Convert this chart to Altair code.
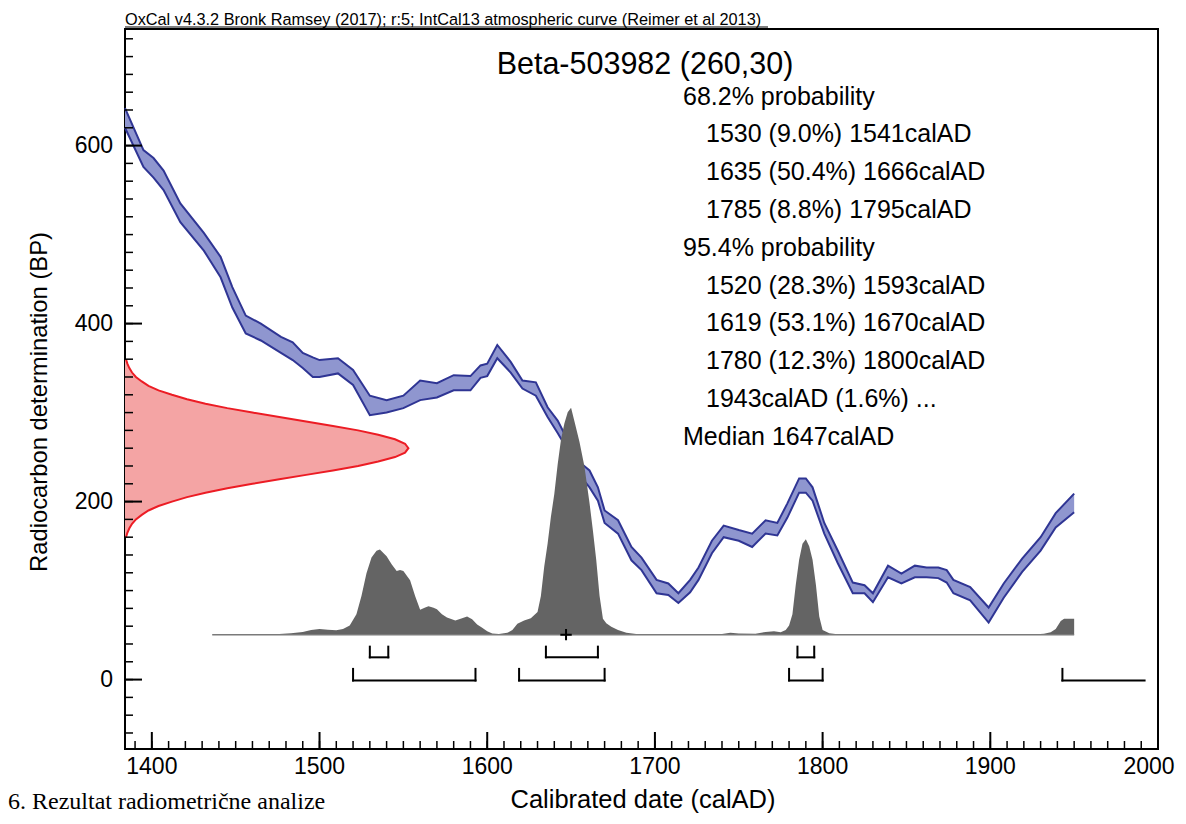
import altair as alt
import pandas as pd

# ---------------- data ----------------
# IntCal13 calibration band: calendar year (calAD), upper / lower radiocarbon age (BP)
cal_year = [1384, 1395, 1401, 1407, 1417, 1431, 1441, 1448, 1456, 1465,
            1477, 1484, 1490, 1496, 1500, 1511, 1520, 1530, 1540, 1550,
            1560, 1570, 1580, 1590, 1596, 1600, 1606, 1614, 1621, 1629,
            1636, 1642, 1648, 1654, 1661, 1666, 1670, 1678, 1686, 1692,
            1701, 1708, 1714, 1721, 1726, 1734, 1741, 1750, 1758, 1766,
            1773, 1779, 1786, 1790, 1794, 1801, 1809, 1818, 1825, 1830,
            1839, 1847, 1855, 1862, 1869, 1874, 1878, 1888, 1899, 1908,
            1919, 1930, 1939, 1950]
cal_hi = [642, 595, 586, 572, 535, 502, 475, 441, 409, 400,
          385, 379, 367, 362, 359, 361, 348, 319, 314, 319,
          336, 333, 342, 341, 353, 355, 376, 357, 336, 334,
          306, 291, 269, 246, 235, 216, 190, 179, 149, 137,
          112, 108, 97, 112, 126, 156, 173, 168, 164, 179,
          176, 198, 226, 226, 216, 176, 145, 109, 106, 97,
          128, 119, 128, 126, 126, 123, 112, 104, 81, 108,
          136, 160, 187, 209]
cal_lo = [620, 576, 564, 550, 514, 482, 452, 418, 389, 381,
          367, 359, 350, 340, 340, 344, 331, 297, 300, 305,
          314, 317, 325, 325, 339, 341, 361, 345, 327, 319,
          295, 277, 258, 232, 216, 201, 176, 164, 134, 123,
          97, 95, 86, 98, 112, 142, 160, 156, 149, 164,
          162, 182, 210, 210, 201, 164, 131, 97, 97, 87,
          115, 108, 115, 115, 114, 109, 97, 89, 64, 92,
          121, 145, 171, 188]

# calibrated (posterior) probability, relative to its maximum
post_year = [1436, 1450, 1465, 1476, 1483, 1490, 1495, 1500, 1505, 1510,
             1514, 1518, 1522, 1525, 1528, 1531, 1534, 1536, 1540, 1543,
             1546, 1548, 1550, 1554, 1557, 1560, 1563, 1565, 1568, 1570,
             1573, 1576, 1581, 1585, 1588, 1591, 1594, 1597, 1600, 1603,
             1607, 1612, 1615, 1618, 1622, 1626, 1630, 1632, 1634, 1636,
             1638, 1640, 1642, 1644, 1646, 1648, 1650, 1652, 1655, 1658,
             1661, 1663, 1665, 1667, 1669, 1671, 1674, 1678, 1683, 1690,
             1700, 1730, 1740, 1745, 1750, 1760, 1766, 1771, 1775, 1778,
             1780, 1782, 1784, 1786, 1788, 1790, 1792, 1794, 1796, 1798,
             1800, 1804, 1810, 1820, 1900, 1925, 1932, 1936, 1939, 1942,
             1944, 1950]
post_rel = [0, 0.001, 0.002, 0.003, 0.006, 0.012, 0.02, 0.025, 0.021, 0.019,
            0.025, 0.04, 0.09, 0.17, 0.27, 0.34, 0.37, 0.375, 0.345, 0.31,
            0.28, 0.285, 0.28, 0.24, 0.17, 0.11, 0.12, 0.125, 0.118, 0.112,
            0.09, 0.075, 0.062, 0.072, 0.08, 0.068, 0.045, 0.03, 0.015, 0.005,
            0.003, 0.008, 0.02, 0.048, 0.062, 0.072, 0.10, 0.17, 0.30, 0.40,
            0.52, 0.62, 0.75, 0.86, 0.93, 0.98, 1.0, 0.94, 0.85, 0.74,
            0.58, 0.46, 0.33, 0.17, 0.07, 0.05, 0.035, 0.02, 0.008, 0.002,
            0, 0, 0.003, 0.008, 0.005, 0.004, 0.012, 0.015, 0.01, 0.02,
            0.04, 0.09, 0.22, 0.33, 0.40, 0.42, 0.39, 0.33, 0.22, 0.08,
            0.02, 0.006, 0.001, 0, 0, 0.001, 0.004, 0.01, 0.025, 0.06,
            0.07, 0.07]

# measured date 260 +- 30 BP drawn along the y axis: BP and reach (years)
red_bp = [160, 165, 170, 175, 180, 185, 190, 195, 200, 205,
          210, 215, 220, 225, 230, 235, 240, 245, 250, 255,
          260, 265, 270, 275, 280, 285, 290, 295, 300, 305,
          310, 315, 320, 325, 330, 335, 340, 345, 350, 355, 360]
red_reach = [0.6, 1.4, 2.6, 4.2, 6.5, 10, 14, 20, 28, 37,
             48, 61, 76, 92, 108, 124, 139, 151, 161, 167,
             169, 167, 161, 151, 139, 124, 108, 92, 76, 61,
             48, 37, 28, 20, 14, 10, 6.5, 4.2, 2.6, 1.4, 0.6]

# probability ranges (calAD)
r68_from = [1530, 1635, 1785]
r68_to = [1541, 1666, 1795]
r95_from = [1520, 1619, 1780, 1943]
r95_to = [1593, 1670, 1800, 1992]
r95_open = [False, False, False, True]
median_year = 1647

x_ticks_major = [1400, 1500, 1600, 1700, 1800, 1900, 2000]
y_ticks_major = [0, 200, 400, 600]

info_lines = [
    ("68.2% probability", 0),
    ("1530 (9.0%) 1541calAD", 1),
    ("1635 (50.4%) 1666calAD", 1),
    ("1785 (8.8%) 1795calAD", 1),
    ("95.4% probability", 0),
    ("1520 (28.3%) 1593calAD", 1),
    ("1619 (53.1%) 1670calAD", 1),
    ("1780 (12.3%) 1800calAD", 1),
    ("1943calAD (1.6%) ...", 1),
    ("Median 1647calAD", 0),
]

# ---------------- layout ----------------
X0, X1 = 1384, 2000
Y0, Y1 = -78, 731
W, H = 1033, 720
BASE = 50.5      # BP level of the posterior baseline
PEAK = 255.0     # BP height of the tallest posterior value
FONT = "Liberation Sans"

xs = alt.Scale(domain=[X0, X1], nice=False, zero=False)
ys = alt.Scale(domain=[Y0, Y1], nice=False, zero=False)


def xe(f):
    return alt.X(f, type="quantitative", scale=xs, axis=None)


def ye(f):
    return alt.Y(f, type="quantitative", scale=ys, axis=None)


layers = []

# calibration curve band
cal_df = pd.DataFrame({"year": cal_year, "hi": cal_hi, "lo": cal_lo})
layers.append(alt.Chart(cal_df).mark_area(color="#8f96cf", opacity=1).encode(
    x=xe("year"), y=ye("hi"), y2="lo:Q"))
for col in ["hi", "lo"]:
    layers.append(alt.Chart(cal_df).mark_line(color="#2f3594", strokeWidth=2).encode(
        x=xe("year"), y=ye(col)))

# posterior distribution
post_df = pd.DataFrame({"year": post_year, "rel": post_rel})
post_df["top"] = BASE + post_df["rel"] * PEAK
post_df["base"] = BASE
layers.append(alt.Chart(post_df).mark_area(color="#646464", opacity=1).encode(
    x=xe("year"), y=ye("top"), y2="base:Q"))
base_df = pd.DataFrame({"a": [post_year[0]], "b": [post_year[-1]], "y": [BASE]})
layers.append(alt.Chart(base_df).mark_rule(color="#7a7a7a", strokeWidth=1.5).encode(
    x=xe("a"), x2="b:Q", y=ye("y")))

# measurement distribution on the y axis
red_df = pd.DataFrame({"bp": red_bp, "reach": red_reach})
red_df["x"] = X0 + red_df["reach"]
red_df["x0"] = X0
layers.append(alt.Chart(red_df).mark_area(orient="horizontal", color="#f4a4a4", opacity=1).encode(
    y=ye("bp"), x=xe("x"), x2="x0:Q"))
layers.append(alt.Chart(red_df).mark_line(color="#ec1c24", strokeWidth=2).encode(
    y=ye("bp"), x=xe("x"), order=alt.Order("bp:Q")))

# range brackets
segs = []
for a, b in zip(r68_from, r68_to):
    lvl, h = 25, 12
    segs += [(a, b, lvl, lvl), (a, a, lvl, lvl + h), (b, b, lvl, lvl + h)]
for a, b, op in zip(r95_from, r95_to, r95_open):
    lvl, h = -1, 13
    segs += [(a, b, lvl, lvl), (a, a, lvl, lvl + h)]
    if not op:
        segs.append((b, b, lvl, lvl + h))
seg_df = pd.DataFrame(segs, columns=["x", "x2", "y", "y2"])
layers.append(alt.Chart(seg_df).mark_rule(color="black", strokeWidth=2, strokeCap="square").encode(
    x=xe("x"), x2="x2:Q", y=ye("y"), y2="y2:Q"))

# median cross
med_df = pd.DataFrame({"m": [median_year], "y": [BASE]})
layers.append(alt.Chart(med_df).mark_point(shape="M-1,0L1,0M0,-1L0,1", size=130, strokeWidth=2,
                                           color="black", filled=False, opacity=1).encode(
    x=xe("m"), y=ye("y")))

# inward ticks
xt_minor = pd.DataFrame({"v": list(range(1390, 2001, 10))})
xt_major = pd.DataFrame({"v": x_ticks_major})
yt_minor = pd.DataFrame({"v": list(range(-60, 721, 20))})
yt_major = pd.DataFrame({"v": y_ticks_major})
layers.append(alt.Chart(xt_minor).mark_rule(color="black", strokeWidth=1.5).encode(
    x=xe("v"), y=alt.value(H), y2=alt.value(H - 8)))
layers.append(alt.Chart(xt_major).mark_rule(color="black", strokeWidth=2).encode(
    x=xe("v"), y=alt.value(H), y2=alt.value(H - 17)))
layers.append(alt.Chart(yt_minor).mark_rule(color="black", strokeWidth=1.5).encode(
    y=ye("v"), x=alt.value(0), x2=alt.value(8)))
layers.append(alt.Chart(yt_major).mark_rule(color="black", strokeWidth=2).encode(
    y=ye("v"), x=alt.value(0), x2=alt.value(17)))

# tick labels (the last one nudged left so it stays inside the page)
xl_inner = pd.DataFrame({"v": [v for v in x_ticks_major if v < X1]})
xl_last = pd.DataFrame({"v": [v for v in x_ticks_major if v >= X1]})
layers.append(alt.Chart(xl_inner).mark_text(
    align="center", baseline="middle", fontSize=23, font=FONT, color="black").encode(
    x=xe("v"), y=alt.value(H + 18), text=alt.Text("v:Q", format="d")))
layers.append(alt.Chart(xl_last).mark_text(
    align="center", baseline="middle", fontSize=23, font=FONT, color="black", dx=-9).encode(
    x=xe("v"), y=alt.value(H + 18), text=alt.Text("v:Q", format="d")))
layers.append(alt.Chart(yt_major).mark_text(
    align="right", baseline="middle", fontSize=23, font=FONT, color="black").encode(
    y=ye("v"), x=alt.value(-12), text=alt.Text("v:Q", format="d")))


def text(txt, x, y, size, align="left", baseline="middle", font=FONT, angle=0):
    return alt.Chart(pd.DataFrame({"t": [txt]})).mark_text(
        align=align, baseline=baseline, fontSize=size, font=font, color="black", angle=angle
    ).encode(text="t:N", x=alt.value(x), y=alt.value(y))


layers.append(text("OxCal v4.3.2 Bronk Ramsey (2017); r:5; IntCal13 atmospheric curve (Reimer et al 2013)",
                   0, -4, 16.3, baseline="alphabetic"))
layers.append(alt.Chart(pd.DataFrame({"a": [0]})).mark_rule(color="black", strokeWidth=1).encode(
    x=alt.value(0), x2=alt.value(643), y=alt.value(-2)))
layers.append(text("Beta-503982 (260,30)", 520, 45, 30.5, align="center", baseline="alphabetic"))
for i, (t, ind) in enumerate(info_lines):
    layers.append(text(t, 558 + 23 * ind, 67.5 + 37.8 * i, 25))
layers.append(text("Calibrated date (calAD)", 518, 771, 25.5, align="center"))
layers.append(text("6. Rezultat radiometrične analize", -117, 780, 24, baseline="alphabetic",
                   font="Liberation Serif"))
layers.append(text("Radiocarbon determination (BP)", -85, 373, 23.8, align="center", angle=270))

chart = alt.layer(*layers).properties(
    width=W, height=H,
    autosize=alt.AutoSizeParams(type="none"),
    padding={"left": 117, "top": 21, "right": 20, "bottom": 67},
).configure_view(
    stroke="black", strokeWidth=2
)

chart.save("out.html", embed_options={"renderer": "svg", "actions": False})
